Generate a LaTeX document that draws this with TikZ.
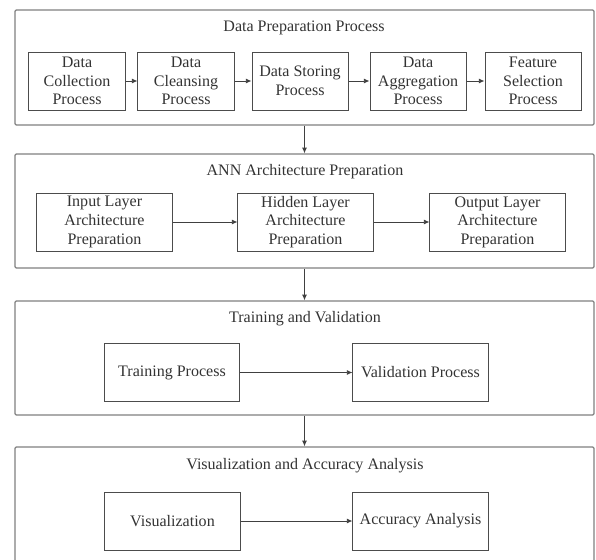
\documentclass[tikz,border=0pt]{standalone}
\usepackage{fontspec}
\setmainfont{Liberation Serif}
\usepackage{xcolor}
\usetikzlibrary{arrows.meta,positioning}

\begin{document}
\begin{tikzpicture}[
    x=0.025cm, y=-0.025cm,
    >={Latex[length=4pt,width=3.5pt]},
    font=\fontsize{11.4}{13.2}\selectfont,
    groupbox/.style={draw=black!50, line width=0.9pt, rounded corners=1pt, minimum width=14.475cm},
    stepbox/.style={draw=black!70, line width=0.7pt, align=center, inner sep=1pt, text=black!80, minimum height=1.45cm},
    smallbox/.style={stepbox, minimum width=2.4cm},
    widebox/.style={stepbox, minimum width=3.375cm},
    grouptitle/.style={text=black!80},
    flow/.style={->, draw=black!75, line width=0.6pt}
]
\useasboundingbox (0,0) rectangle (596,559);

% outer groups
\node[groupbox, minimum height=2.875cm] (prep) at (304.5,67.5) {};
\node[groupbox, minimum height=2.85cm] (ann) at (304.5,211) {};
\node[groupbox, minimum height=2.85cm] (train) at (304.5,358) {};
\node[groupbox, minimum height=3.0cm] (visual) at (304.5,507) {};

\node[grouptitle] (prept) at (304,28) {Data Preparation Process};
\node[grouptitle] (annt) at (305,172) {ANN Architecture Preparation};
\node[grouptitle] (traint) at (305,319) {Training and Validation};
\node[grouptitle] (visualt) at (305,466) {Visualization and Accuracy Analysis};

% data preparation steps
\node[smallbox] (coll) at (77,81) {Data\\Collection\\Process};
\node[smallbox] (clean) at (186,81) {Data\\Cleansing\\Process};
\node[smallbox] (store) at (300,81) {Data Storing\\Process};
\node[smallbox] (aggr) at (418,81) {Data\\Aggregation\\Process};
\node[smallbox] (feat) at (533,81) {Feature\\Selection\\Process};

% architecture steps
\node[widebox] (input) at (104.5,222) {Input Layer\\Architecture\\Preparation};
\node[widebox] (hidden) at (305.5,222) {Hidden Layer\\Architecture\\Preparation};
\node[widebox] (output) at (497.5,222) {Output Layer\\Architecture\\Preparation};

% training and validation
\node[widebox] (tproc) at (172,372.5) {Training Process};
\node[widebox] (vproc) at (420.5,372.5) {Validation Process};

% visualization and accuracy
\node[widebox] (vis) at (172.5,521) {Visualization};
\node[widebox] (acc) at (420.5,521) {Accuracy Analysis};

\draw[flow] (coll) -- (clean);
\draw[flow] (clean) -- (store);
\draw[flow] (store) -- (aggr);
\draw[flow] (aggr) -- (feat);
\draw[flow] (input) -- (hidden);
\draw[flow] (hidden) -- (output);
\draw[flow] (tproc) -- (vproc);
\draw[flow] (vis) -- (acc);

\draw[flow] (prep) -- (ann);
\draw[flow] (ann) -- (train);
\draw[flow] (train) -- (visual);
\end{tikzpicture}
\end{document}
